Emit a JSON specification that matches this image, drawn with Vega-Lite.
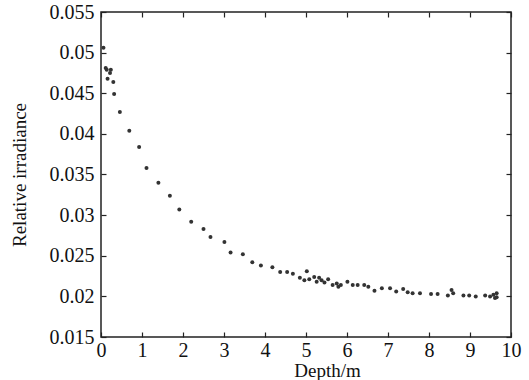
{
  "$schema": "https://vega.github.io/schema/vega-lite/v6.json",
  "autosize": {"type": "none"},
  "width": 410,
  "height": 325,
  "padding": {"left": 101, "top": 12, "right": 18, "bottom": 43},
  "background": "white",
  "config": {
    "view": {"stroke": "#222", "strokeWidth": 1.5},
    "font": "Liberation Serif",
    "axis": {
      "grid": false,
      "domain": false,
      "tickColor": "#222",
      "tickWidth": 1.2,
      "tickSize": -5,
      "labelFont": "Liberation Serif",
      "labelFontSize": 20,
      "labelColor": "#111",
      "titleFont": "Liberation Serif",
      "titleFontSize": 19,
      "titleFontWeight": "normal",
      "titleColor": "#111"
    }
  },
  "data": {"values": [
    {"depth": 0.06, "irr": 0.0506},
    {"depth": 0.115, "irr": 0.0481},
    {"depth": 0.14, "irr": 0.0479},
    {"depth": 0.24, "irr": 0.0479},
    {"depth": 0.16, "irr": 0.0468},
    {"depth": 0.22, "irr": 0.0475},
    {"depth": 0.30, "irr": 0.0464},
    {"depth": 0.32, "irr": 0.0449},
    {"depth": 0.46, "irr": 0.0427},
    {"depth": 0.69, "irr": 0.0404},
    {"depth": 0.93, "irr": 0.0384},
    {"depth": 1.11, "irr": 0.0358},
    {"depth": 1.40, "irr": 0.0340},
    {"depth": 1.68, "irr": 0.0324},
    {"depth": 1.91, "irr": 0.0307},
    {"depth": 2.20, "irr": 0.0292},
    {"depth": 2.50, "irr": 0.0283},
    {"depth": 2.67, "irr": 0.0273},
    {"depth": 3.01, "irr": 0.0267},
    {"depth": 3.16, "irr": 0.0254},
    {"depth": 3.46, "irr": 0.0252},
    {"depth": 3.69, "irr": 0.0242},
    {"depth": 3.90, "irr": 0.0238},
    {"depth": 4.18, "irr": 0.0236},
    {"depth": 4.37, "irr": 0.0230},
    {"depth": 4.54, "irr": 0.0230},
    {"depth": 4.68, "irr": 0.0228},
    {"depth": 4.85, "irr": 0.0223},
    {"depth": 4.96, "irr": 0.0220},
    {"depth": 5.02, "irr": 0.0231},
    {"depth": 5.08, "irr": 0.0221},
    {"depth": 5.20, "irr": 0.0224},
    {"depth": 5.26, "irr": 0.0218},
    {"depth": 5.32, "irr": 0.0223},
    {"depth": 5.38, "irr": 0.0220},
    {"depth": 5.45, "irr": 0.0217},
    {"depth": 5.54, "irr": 0.0221},
    {"depth": 5.65, "irr": 0.0214},
    {"depth": 5.75, "irr": 0.0216},
    {"depth": 5.79, "irr": 0.0212},
    {"depth": 5.85, "irr": 0.0214},
    {"depth": 6.01, "irr": 0.0218},
    {"depth": 6.14, "irr": 0.0214},
    {"depth": 6.26, "irr": 0.0214},
    {"depth": 6.42, "irr": 0.0214},
    {"depth": 6.52, "irr": 0.0212},
    {"depth": 6.67, "irr": 0.0207},
    {"depth": 6.85, "irr": 0.0210},
    {"depth": 7.05, "irr": 0.0210},
    {"depth": 7.20, "irr": 0.0206},
    {"depth": 7.37, "irr": 0.0209},
    {"depth": 7.48, "irr": 0.0205},
    {"depth": 7.60, "irr": 0.0204},
    {"depth": 7.78, "irr": 0.0204},
    {"depth": 8.05, "irr": 0.0203},
    {"depth": 8.21, "irr": 0.0203},
    {"depth": 8.46, "irr": 0.0201},
    {"depth": 8.55, "irr": 0.0208},
    {"depth": 8.59, "irr": 0.0204},
    {"depth": 8.84, "irr": 0.0201},
    {"depth": 8.98, "irr": 0.0201},
    {"depth": 9.14, "irr": 0.0200},
    {"depth": 9.37, "irr": 0.0201},
    {"depth": 9.49, "irr": 0.0200},
    {"depth": 9.57, "irr": 0.0202},
    {"depth": 9.61, "irr": 0.0198},
    {"depth": 9.65, "irr": 0.0204},
    {"depth": 9.65, "irr": 0.0199}
  ]},
  "resolve": {"axis": {"x": "independent", "y": "independent"}},
  "layer": [
    {
      "mark": {"type": "point", "filled": true, "shape": "circle", "size": 16, "color": "#333", "opacity": 1},
      "encoding": {
        "x": {"field": "depth", "type": "quantitative",
              "scale": {"domain": [0, 10], "nice": false, "zero": false},
              "axis": {"orient": "bottom", "values": [0,1,2,3,4,5,6,7,8,9,10], "labelPadding": 8, "title": "Depth/m", "titlePadding": 1, "titleX": 226, "labelFlush": false}},
        "y": {"field": "irr", "type": "quantitative",
              "scale": {"domain": [0.015, 0.055], "nice": false, "zero": false},
              "axis": {"orient": "left", "values": [0.015,0.02,0.025,0.03,0.035,0.04,0.045,0.05,0.055], "format": "~g", "labelPadding": 12, "title": "Relative irradiance", "titlePadding": 20, "labelFlush": false}}
      }
    },
    {
      "mark": {"type": "point", "opacity": 0},
      "encoding": {
        "x": {"field": "depth", "type": "quantitative",
              "scale": {"domain": [0, 10], "nice": false, "zero": false},
              "axis": {"orient": "top", "values": [0,1,2,3,4,5,6,7,8,9,10], "labels": false, "title": null}},
        "y": {"field": "irr", "type": "quantitative",
              "scale": {"domain": [0.015, 0.055], "nice": false, "zero": false},
              "axis": {"orient": "right", "values": [0.015,0.02,0.025,0.03,0.035,0.04,0.045,0.05,0.055], "labels": false, "title": null}}
      }
    }
  ]
}
